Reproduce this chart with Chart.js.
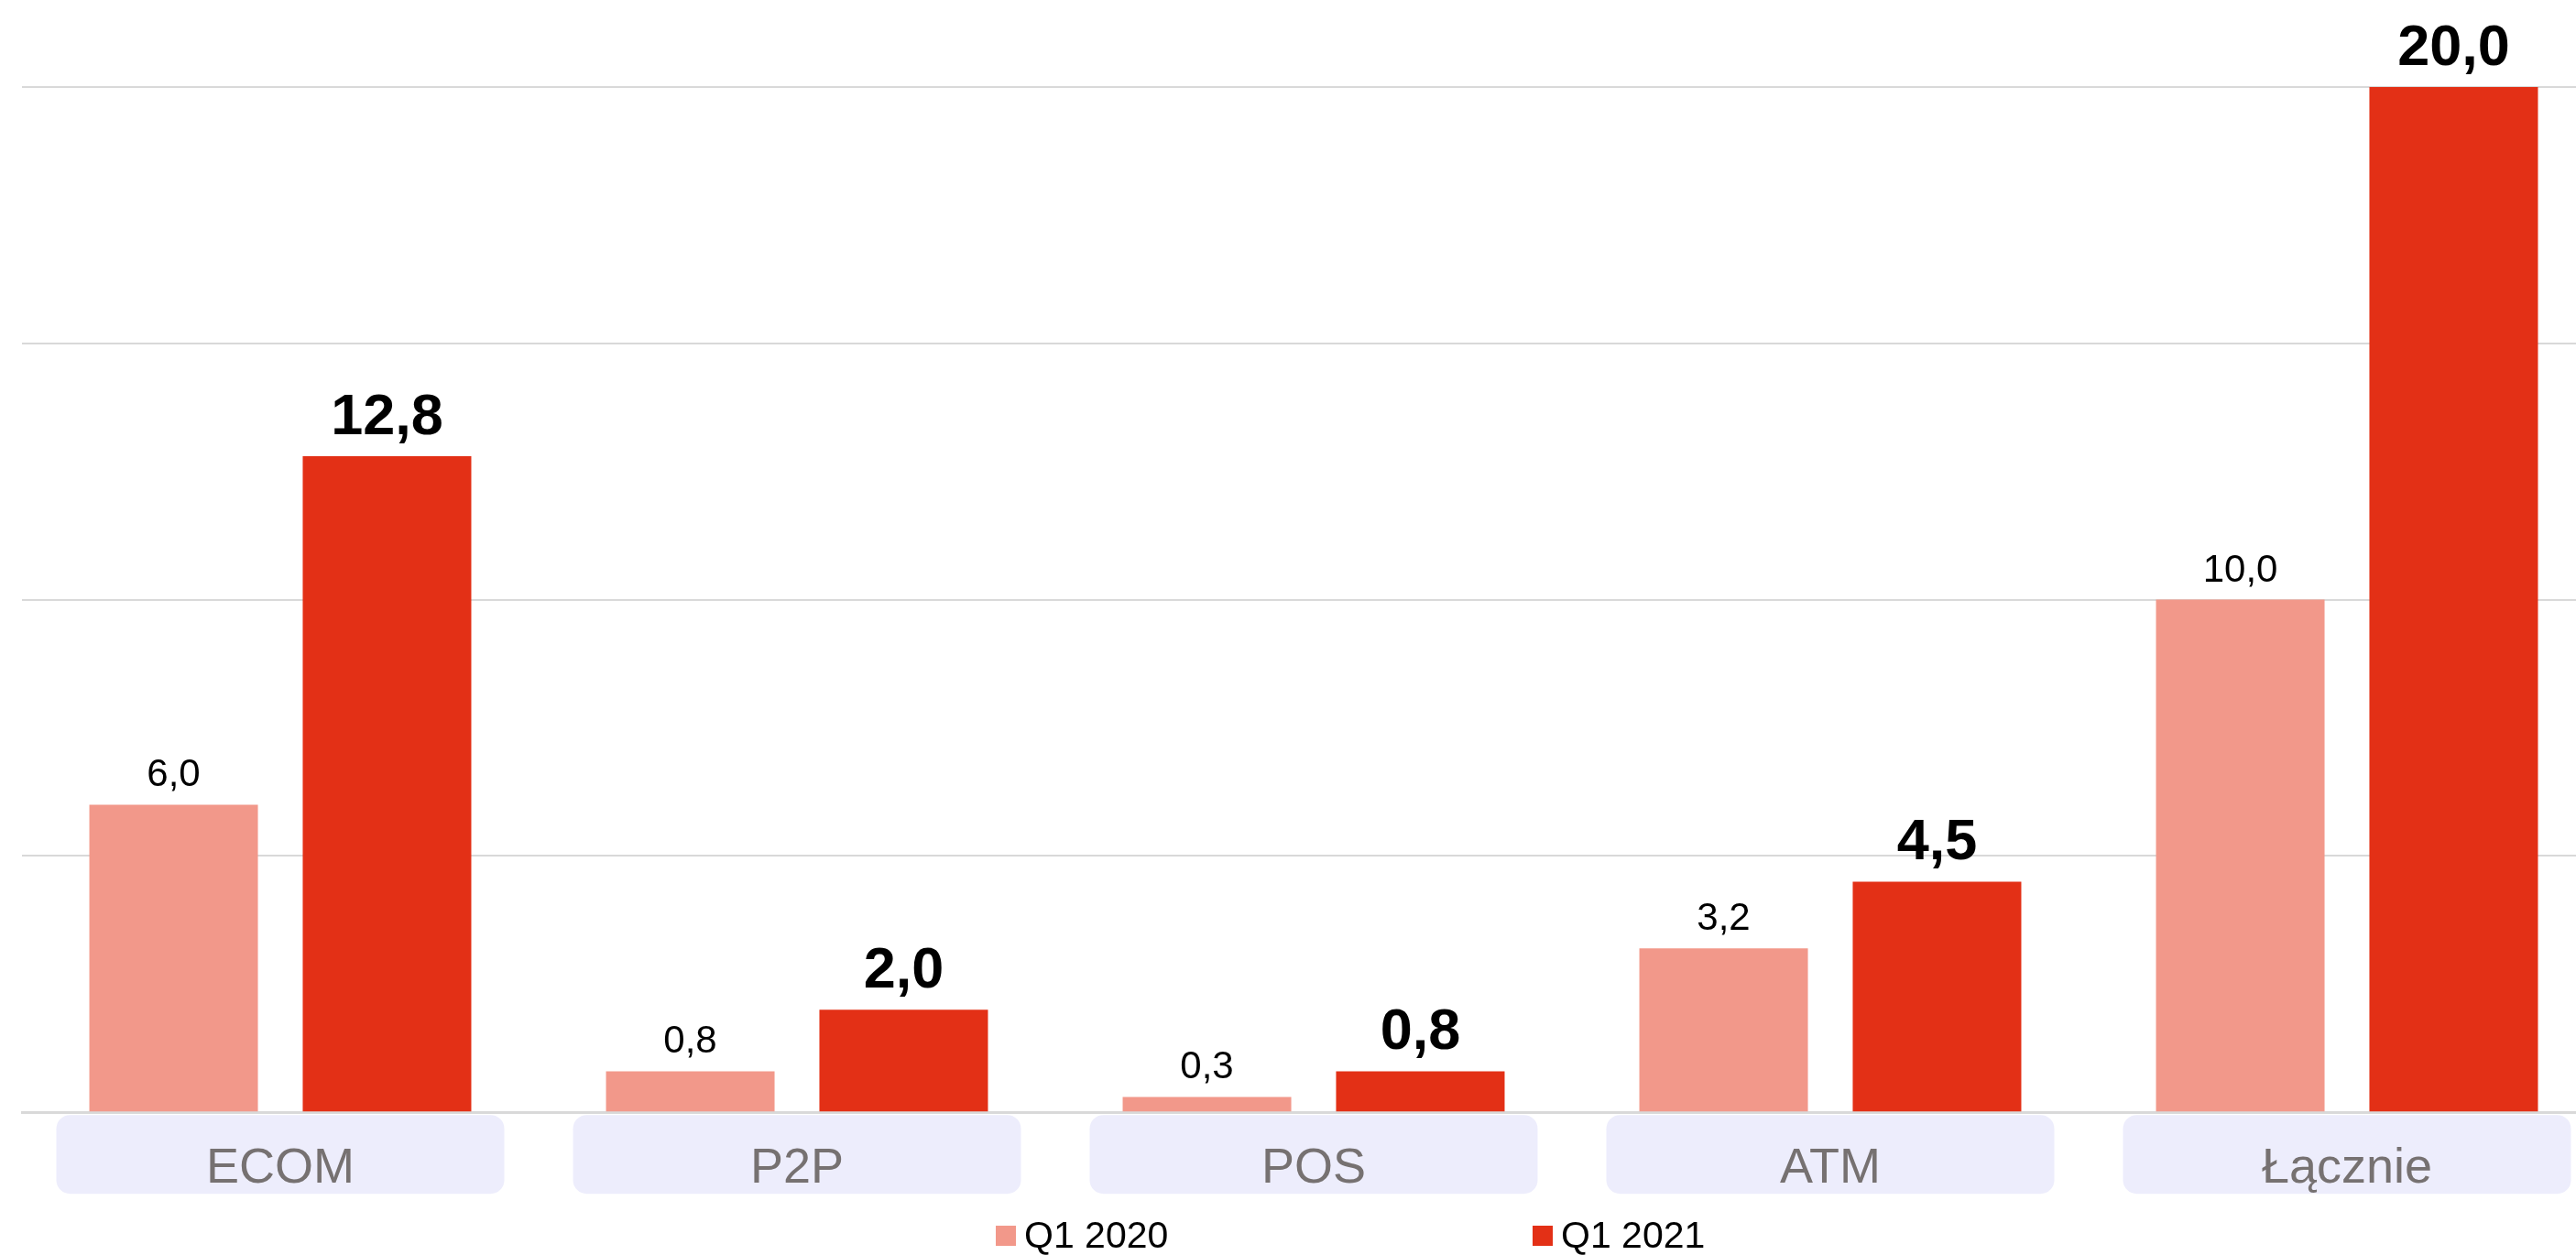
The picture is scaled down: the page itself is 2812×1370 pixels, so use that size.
<!DOCTYPE html>
<html lang="pl">
<head>
<meta charset="utf-8">
<title>ECOM, P2P, POS, ATM</title>
<script src="https://cdn.jsdelivr.net/npm/chart.js@4"></script>
<style>
    html, body { margin: 0; padding: 0; background: #ffffff; overflow: hidden; }
    /* plot runs a little past the right edge of the window, as in the source */
    #wrap { position: relative; width: 2844px; height: 1370px; }
</style>
</head>
<body>
<div id="wrap"><canvas id="chart"></canvas></div>
<script>
// Data
const categories = ['ECOM', 'P2P', 'POS', 'ATM', 'Łącznie'];
const seriesNames = ['Q1 2020', 'Q1 2021'];
const q1_2020 = [6.0, 0.8, 0.3, 3.2, 10.0];
const q1_2021 = [12.8, 2.0, 0.8, 4.5, 20.0];
const yTicks = [0, 5, 10, 15, 20];

// Colors
const COLORS = ['#F2988A', '#E33016'];
const GRID = '#D9D9D9';
const BOX = '#EDEDFC';
const FONT = '"Liberation Sans", Arial, sans-serif';

function fmt(v) {
    return v.toFixed(1).replace('.', ',');
}

// rounded boxes behind the category labels
const categoryBoxes = {
    id: 'categoryBoxes',
    beforeDraw(chart) {
        const x = chart.scales.x;
        const ctx = chart.ctx;
        const w = x.width / categories.length * 0.867;
        const top = chart.chartArea.bottom + 3;
        ctx.save();
        ctx.fillStyle = BOX;
        categories.forEach((c, i) => {
            const cx = x.getPixelForValue(i);
            ctx.beginPath();
            ctx.roundRect(cx - w / 2, top, w, 86, 15);
            ctx.fill();
        });
        ctx.restore();
    }
};

// values above the bars
const valueLabels = {
    id: 'valueLabels',
    afterDatasetsDraw(chart) {
        const ctx = chart.ctx;
        ctx.save();
        ctx.textAlign = 'center';
        ctx.textBaseline = 'alphabetic';
        ctx.fillStyle = '#000000';
        chart.data.datasets.forEach((ds, di) => {
            const meta = chart.getDatasetMeta(di);
            ctx.font = di === 1 ? 'bold 63px ' + FONT : '42px ' + FONT;
            const gap = di === 1 ? 24 : 20;
            meta.data.forEach((bar, i) => {
                ctx.fillText(fmt(ds.data[i]), bar.x, bar.y - gap);
            });
        });
        ctx.restore();
    }
};

// legend spread out under the axis
const bottomLegend = {
    id: 'bottomLegend',
    afterDraw(chart) {
        const ctx = chart.ctx;
        const starts = [1087, 1673];
        const base = chart.height - 8;
        ctx.save();
        ctx.font = '41px ' + FONT;
        ctx.textAlign = 'left';
        ctx.textBaseline = 'alphabetic';
        chart.data.datasets.forEach((ds, i) => {
            ctx.fillStyle = ds.backgroundColor;
            ctx.fillRect(starts[i], base - 24, 22, 22);
            ctx.fillStyle = '#000000';
            ctx.fillText(ds.label, starts[i] + 31, base);
        });
        ctx.restore();
    }
};

new Chart(document.getElementById('chart'), {
    type: 'bar',
    data: {
        labels: categories,
        datasets: [
            { label: seriesNames[0], data: q1_2020, backgroundColor: COLORS[0] },
            { label: seriesNames[1], data: q1_2021, backgroundColor: COLORS[1] }
        ]
    },
    options: {
        responsive: true,
        maintainAspectRatio: false,
        animation: false,
        categoryPercentage: 0.826,
        barPercentage: 0.79,
        layout: {
            padding: { top: 95, left: 24, right: 0, bottom: 31 }
        },
        plugins: {
            legend: { display: false },
            tooltip: { enabled: false }
        },
        scales: {
            x: {
                grid: { display: false, drawTicks: false },
                border: { display: true, color: GRID, width: 3 },
                ticks: {
                    padding: 30,
                    color: '#767171',
                    font: { family: FONT, size: 54 }
                }
            },
            y: {
                min: yTicks[0],
                max: yTicks[yTicks.length - 1],
                afterBuildTicks(scale) {
                    scale.ticks = yTicks.map(v => ({ value: v }));
                },
                grid: { color: GRID, lineWidth: 2, drawTicks: false },
                border: { display: false },
                ticks: { display: false }
            }
        }
    },
    plugins: [categoryBoxes, valueLabels, bottomLegend]
});
</script>
</body>
</html>
